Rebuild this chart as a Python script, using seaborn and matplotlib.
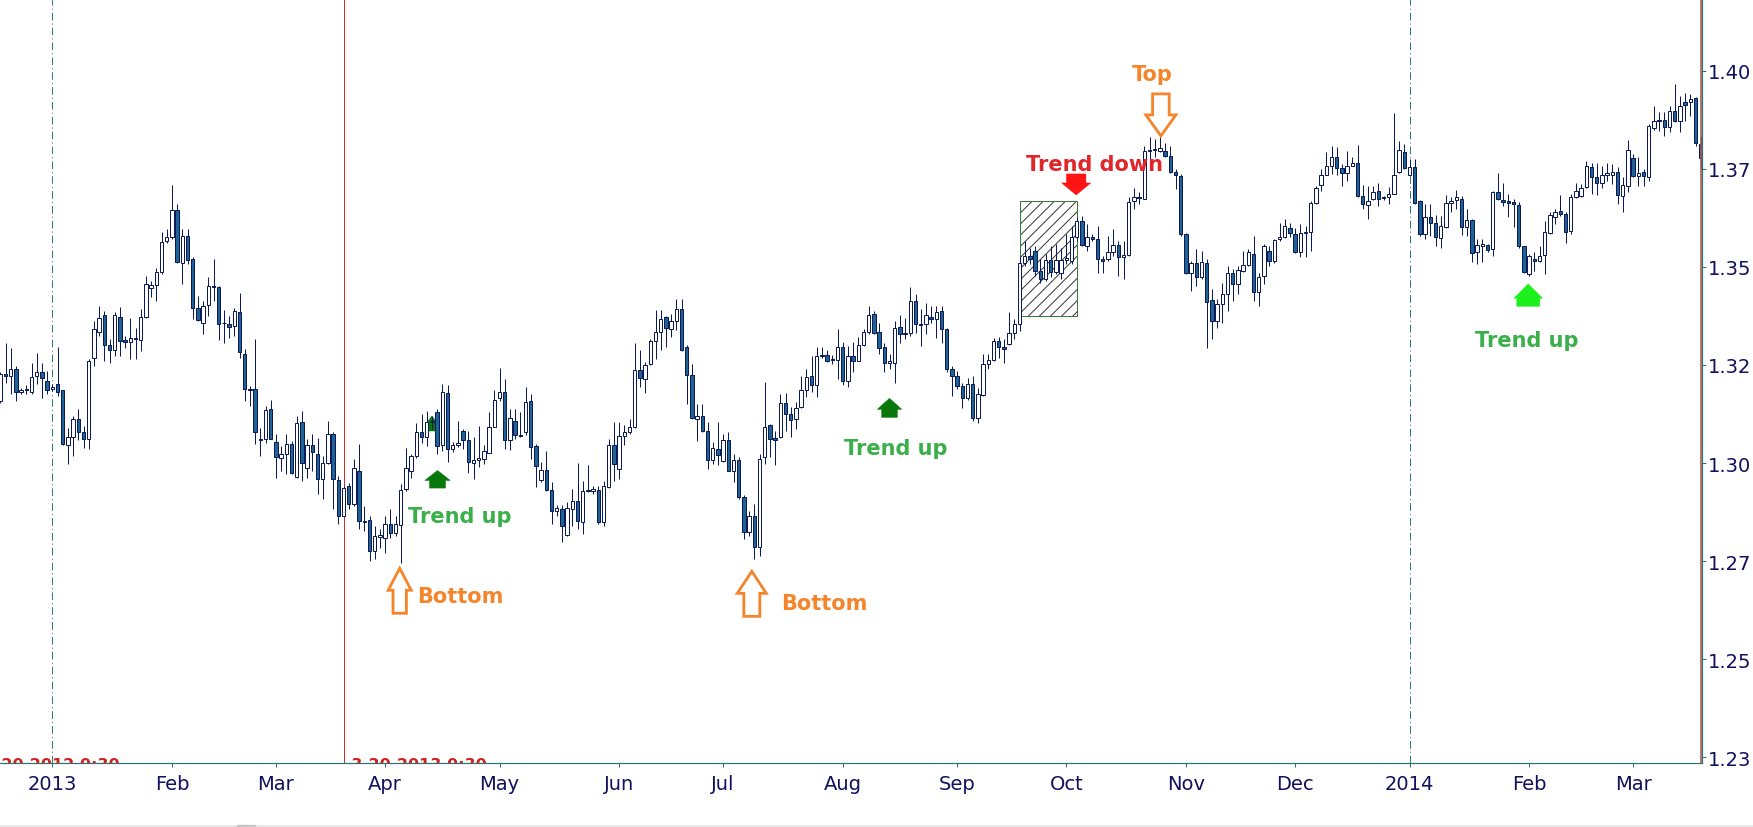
import numpy as np
import pandas as pd
import matplotlib
matplotlib.use("Agg")
import matplotlib.pyplot as plt
import matplotlib.transforms as mtransforms
from matplotlib.patches import Polygon, Rectangle
from matplotlib.lines import Line2D
import seaborn as sns

# ---------------- data (EUR/USD daily candles) ----------------
start_date = "2012-12-18"

open_ = [
    1.3158, 1.3226, 1.3222, 1.3241, 1.3180, 1.3185, 1.3180, 1.3222, 1.3233, 1.3209,
    1.3190, 1.3202, 1.3185, 1.3046, 1.3067, 1.3113, 1.3078, 1.3062, 1.3269, 1.3335,
    1.3378, 1.3301, 1.3287, 1.3373, 1.3314, 1.3309, 1.3319, 1.3314, 1.3373, 1.3447,
    1.3453, 1.3488, 1.3566, 1.3575, 1.3644, 1.3511, 1.3579, 1.3520, 1.3394, 1.3356,
    1.3404, 1.3452, 1.3450, 1.3356, 1.3355, 1.3349, 1.3386, 1.3279, 1.3190, 1.3188,
    1.3059, 1.3061, 1.3137, 1.3055, 1.3014, 1.3022, 1.3048, 1.2965, 1.3105, 1.2988,
    1.3045, 1.3022, 1.2959, 1.3001, 1.3075, 1.2958, 1.2865, 1.2942, 1.2895, 1.2980,
    1.2852, 1.2856, 1.2776, 1.2812, 1.2810, 1.2844, 1.2821, 1.2841, 1.2933, 1.2980,
    1.3018, 1.3078, 1.3067, 1.3105, 1.3129, 1.3045, 1.3178, 1.3036, 1.3047, 1.3081,
    1.3060, 1.2999, 1.3009, 1.3010, 1.3026, 1.3093, 1.3166, 1.3182, 1.3060, 1.3108,
    1.3072, 1.3078, 1.3159, 1.3043, 1.2957, 1.2982, 1.2932, 1.2879, 1.2883, 1.2817,
    1.2882, 1.2904, 1.2851, 1.2930, 1.2930, 1.2932, 1.2851, 1.2938, 1.3046, 1.2985,
    1.3070, 1.3078, 1.3091, 1.3238, 1.3215, 1.3253, 1.3311, 1.3335, 1.3372, 1.3342,
    1.3363, 1.3393, 1.3295, 1.3225, 1.3113, 1.3121, 1.3081, 1.3008, 1.3036, 1.3005,
    1.3060, 1.2981, 1.3008, 1.2913, 1.2825, 1.2866, 1.2785, 1.3015, 1.3096, 1.3064,
    1.3066, 1.3152, 1.3124, 1.3113, 1.3142, 1.3185, 1.3221, 1.3199, 1.3272, 1.3276,
    1.3264, 1.3263, 1.3295, 1.3210, 1.3274, 1.3261, 1.3301, 1.3333, 1.3379, 1.3335,
    1.3297, 1.3256, 1.3256, 1.3347, 1.3328, 1.3332, 1.3413, 1.3354, 1.3354, 1.3373,
    1.3368, 1.3388, 1.3341, 1.3239, 1.3222, 1.3197, 1.3167, 1.3201, 1.3116, 1.3173,
    1.3252, 1.3263, 1.3310, 1.3297, 1.3303, 1.3331, 1.3354, 1.3509, 1.3528, 1.3541,
    1.3490, 1.3469, 1.3518, 1.3486, 1.3484, 1.3518, 1.3515, 1.3577, 1.3617, 1.3553,
    1.3575, 1.3570, 1.3521, 1.3520, 1.3538, 1.3556, 1.3525, 1.3530, 1.3668, 1.3677,
    1.3674, 1.3795, 1.3797, 1.3796, 1.3796, 1.3783, 1.3742, 1.3732, 1.3583, 1.3484,
    1.3509, 1.3473, 1.3511, 1.3415, 1.3362, 1.3405, 1.3432, 1.3484, 1.3456, 1.3490,
    1.3504, 1.3534, 1.3435, 1.3477, 1.3541, 1.3515, 1.3570, 1.3575, 1.3600, 1.3583,
    1.3538, 1.3586, 1.3589, 1.3664, 1.3709, 1.3735, 1.3758, 1.3781, 1.3751, 1.3739,
    1.3758, 1.3764, 1.3681, 1.3658, 1.3673, 1.3694, 1.3677, 1.3677, 1.3687, 1.3741,
    1.3794, 1.3735, 1.3755, 1.3668, 1.3585, 1.3626, 1.3611, 1.3573, 1.3601, 1.3662,
    1.3670, 1.3674, 1.3602, 1.3619, 1.3539, 1.3554, 1.3556, 1.3545, 1.3692, 1.3670,
    1.3668, 1.3666, 1.3657, 1.3552, 1.3482, 1.3521, 1.3514, 1.3531, 1.3586, 1.3626,
    1.3643, 1.3634, 1.3592, 1.3677, 1.3681, 1.3703, 1.3754, 1.3730, 1.3715, 1.3734,
    1.3734, 1.3741, 1.3681, 1.3705, 1.3777, 1.3731, 1.3741, 1.3730, 1.3854, 1.3871,
    1.3875, 1.3856, 1.3898, 1.3873, 1.3919, 1.3919, 1.3930, 1.3813,
]

high = [
    1.3231, 1.3307, 1.3294, 1.3248, 1.3192, 1.3200, 1.3256, 1.3281, 1.3256, 1.3235,
    1.3201, 1.3297, 1.3187, 1.3090, 1.3120, 1.3139, 1.3095, 1.3265, 1.3362, 1.3401,
    1.3388, 1.3316, 1.3385, 1.3399, 1.3324, 1.3371, 1.3345, 1.3392, 1.3477, 1.3464,
    1.3498, 1.3588, 1.3596, 1.3708, 1.3660, 1.3596, 1.3596, 1.3524, 1.3426, 1.3413,
    1.3473, 1.3520, 1.3452, 1.3390, 1.3375, 1.3396, 1.3433, 1.3290, 1.3197, 1.3317,
    1.3090, 1.3146, 1.3162, 1.3073, 1.3044, 1.3073, 1.3056, 1.3120, 1.3133, 1.3061,
    1.3073, 1.3065, 1.3018, 1.3106, 1.3078, 1.2967, 1.2942, 1.2950, 1.3010, 1.3048,
    1.2890, 1.2865, 1.2840, 1.2831, 1.2865, 1.2882, 1.2865, 1.2946, 1.3039, 1.3022,
    1.3103, 1.3124, 1.3133, 1.3120, 1.3137, 1.3202, 1.3199, 1.3055, 1.3108, 1.3087,
    1.3083, 1.3066, 1.3094, 1.3045, 1.3130, 1.3185, 1.3243, 1.3215, 1.3138, 1.3138,
    1.3130, 1.3193, 1.3176, 1.3049, 1.3002, 1.3032, 1.2951, 1.2892, 1.2892, 1.2900,
    1.2934, 1.3000, 1.2955, 1.2995, 1.2942, 1.2942, 1.2955, 1.3061, 1.3104, 1.3104,
    1.3096, 1.3113, 1.3305, 1.3287, 1.3257, 1.3316, 1.3389, 1.3390, 1.3374, 1.3380,
    1.3417, 1.3417, 1.3300, 1.3253, 1.3151, 1.3151, 1.3104, 1.3053, 1.3104, 1.3074,
    1.3080, 1.3023, 1.3015, 1.2919, 1.2879, 1.2896, 1.3023, 1.3206, 1.3100, 1.3083,
    1.3175, 1.3178, 1.3142, 1.3155, 1.3223, 1.3240, 1.3274, 1.3295, 1.3297, 1.3287,
    1.3276, 1.3342, 1.3308, 1.3299, 1.3308, 1.3321, 1.3342, 1.3401, 1.3388, 1.3358,
    1.3307, 1.3277, 1.3362, 1.3377, 1.3371, 1.3449, 1.3430, 1.3392, 1.3409, 1.3400,
    1.3400, 1.3400, 1.3345, 1.3247, 1.3235, 1.3205, 1.3218, 1.3222, 1.3192, 1.3277,
    1.3277, 1.3320, 1.3321, 1.3316, 1.3384, 1.3367, 1.3528, 1.3566, 1.3549, 1.3553,
    1.3520, 1.3532, 1.3553, 1.3558, 1.3549, 1.3583, 1.3603, 1.3626, 1.3630, 1.3609,
    1.3583, 1.3605, 1.3528, 1.3579, 1.3596, 1.3566, 1.3566, 1.3677, 1.3702, 1.3690,
    1.3809, 1.3830, 1.3826, 1.3830, 1.3817, 1.3809, 1.3749, 1.3736, 1.3587, 1.3515,
    1.3545, 1.3541, 1.3520, 1.3443, 1.3417, 1.3460, 1.3502, 1.3494, 1.3502, 1.3541,
    1.3545, 1.3579, 1.3485, 1.3558, 1.3553, 1.3571, 1.3613, 1.3622, 1.3613, 1.3600,
    1.3609, 1.3605, 1.3668, 1.3707, 1.3749, 1.3792, 1.3809, 1.3805, 1.3762, 1.3796,
    1.3779, 1.3810, 1.3709, 1.3707, 1.3707, 1.3715, 1.3681, 1.3703, 1.3892, 1.3822,
    1.3813, 1.3775, 1.3775, 1.3670, 1.3660, 1.3660, 1.3633, 1.3630, 1.3683, 1.3677,
    1.3697, 1.3680, 1.3647, 1.3622, 1.3571, 1.3571, 1.3558, 1.3694, 1.3739, 1.3715,
    1.3685, 1.3672, 1.3665, 1.3554, 1.3532, 1.3537, 1.3554, 1.3617, 1.3640, 1.3647,
    1.3683, 1.3640, 1.3685, 1.3715, 1.3711, 1.3771, 1.3766, 1.3766, 1.3758, 1.3766,
    1.3762, 1.3754, 1.3728, 1.3823, 1.3788, 1.3779, 1.3749, 1.3864, 1.3911, 1.3895,
    1.3894, 1.3911, 1.3966, 1.3936, 1.3943, 1.3941, 1.3932, 1.3834,
]

low = [
    1.3154, 1.3205, 1.3175, 1.3157, 1.3175, 1.3175, 1.3175, 1.3201, 1.3167, 1.3175,
    1.3184, 1.3171, 1.3046, 1.2997, 1.3018, 1.3060, 1.3039, 1.3035, 1.3248, 1.3324,
    1.3260, 1.3256, 1.3273, 1.3273, 1.3294, 1.3265, 1.3265, 1.3286, 1.3371, 1.3422,
    1.3413, 1.3481, 1.3562, 1.3570, 1.3511, 1.3456, 1.3507, 1.3367, 1.3362, 1.3328,
    1.3375, 1.3413, 1.3314, 1.3305, 1.3320, 1.3324, 1.3269, 1.3158, 1.3146, 1.3048,
    1.3018, 1.3052, 1.3061, 1.2963, 1.2980, 1.2971, 1.2971, 1.2963, 1.2954, 1.2963,
    1.2980, 1.2920, 1.2908, 1.2997, 1.2882, 1.2844, 1.2865, 1.2882, 1.2890, 1.2831,
    1.2827, 1.2750, 1.2755, 1.2784, 1.2772, 1.2810, 1.2814, 1.2746, 1.2929, 1.2963,
    1.3014, 1.3052, 1.3044, 1.3086, 1.3022, 1.3032, 1.3002, 1.3027, 1.3040, 1.3036,
    1.2976, 1.2960, 1.2989, 1.2998, 1.3026, 1.3091, 1.3159, 1.3036, 1.3033, 1.3062,
    1.3067, 1.3072, 1.3010, 1.2938, 1.2951, 1.2930, 1.2845, 1.2866, 1.2798, 1.2815,
    1.2840, 1.2832, 1.2819, 1.2926, 1.2921, 1.2845, 1.2839, 1.2936, 1.2955, 1.2960,
    1.3045, 1.3074, 1.3089, 1.3193, 1.3178, 1.3250, 1.3265, 1.3287, 1.3295, 1.3321,
    1.3338, 1.3286, 1.3151, 1.3112, 1.3057, 1.3079, 1.2985, 1.2998, 1.2994, 1.3003,
    1.2979, 1.2951, 1.2908, 1.2806, 1.2815, 1.2756, 1.2764, 1.2998, 1.3015, 1.2994,
    1.3064, 1.3083, 1.3066, 1.3087, 1.3140, 1.3168, 1.3181, 1.3168, 1.3269, 1.3258,
    1.3253, 1.3215, 1.3198, 1.3193, 1.3231, 1.3259, 1.3299, 1.3329, 1.3330, 1.3277,
    1.3231, 1.3239, 1.3205, 1.3307, 1.3316, 1.3324, 1.3332, 1.3299, 1.3328, 1.3358,
    1.3320, 1.3307, 1.3231, 1.3171, 1.3188, 1.3141, 1.3162, 1.3107, 1.3103, 1.3171,
    1.3239, 1.3261, 1.3269, 1.3256, 1.3301, 1.3316, 1.3337, 1.3502, 1.3507, 1.3477,
    1.3460, 1.3464, 1.3473, 1.3481, 1.3469, 1.3507, 1.3507, 1.3566, 1.3553, 1.3541,
    1.3566, 1.3484, 1.3484, 1.3515, 1.3528, 1.3477, 1.3470, 1.3528, 1.3647, 1.3660,
    1.3672, 1.3775, 1.3779, 1.3792, 1.3781, 1.3740, 1.3698, 1.3579, 1.3481, 1.3439,
    1.3452, 1.3470, 1.3294, 1.3317, 1.3345, 1.3358, 1.3388, 1.3413, 1.3430, 1.3488,
    1.3502, 1.3413, 1.3400, 1.3456, 1.3502, 1.3511, 1.3566, 1.3573, 1.3575, 1.3536,
    1.3524, 1.3524, 1.3541, 1.3660, 1.3694, 1.3733, 1.3737, 1.3734, 1.3707, 1.3719,
    1.3756, 1.3677, 1.3647, 1.3623, 1.3671, 1.3656, 1.3670, 1.3660, 1.3685, 1.3739,
    1.3749, 1.3732, 1.3660, 1.3579, 1.3571, 1.3579, 1.3554, 1.3548, 1.3599, 1.3639,
    1.3647, 1.3581, 1.3579, 1.3513, 1.3507, 1.3513, 1.3539, 1.3528, 1.3670, 1.3656,
    1.3626, 1.3601, 1.3549, 1.3484, 1.3477, 1.3490, 1.3512, 1.3481, 1.3584, 1.3609,
    1.3630, 1.3560, 1.3583, 1.3675, 1.3677, 1.3700, 1.3685, 1.3683, 1.3702, 1.3719,
    1.3711, 1.3660, 1.3640, 1.3691, 1.3729, 1.3707, 1.3707, 1.3720, 1.3850, 1.3847,
    1.3834, 1.3843, 1.3868, 1.3843, 1.3873, 1.3885, 1.3809, 1.3749,
]

close = [
    1.3226, 1.3222, 1.3241, 1.3180, 1.3185, 1.3190, 1.3220, 1.3233, 1.3218, 1.3186,
    1.3194, 1.3182, 1.3049, 1.3067, 1.3113, 1.3079, 1.3062, 1.3260, 1.3341, 1.3371,
    1.3301, 1.3287, 1.3377, 1.3311, 1.3309, 1.3319, 1.3316, 1.3373, 1.3456, 1.3453,
    1.3488, 1.3564, 1.3575, 1.3644, 1.3513, 1.3579, 1.3517, 1.3394, 1.3364, 1.3400,
    1.3452, 1.3448, 1.3355, 1.3358, 1.3348, 1.3388, 1.3282, 1.3188, 1.3186, 1.3079,
    1.3061, 1.3135, 1.3062, 1.3016, 1.3024, 1.3048, 1.2976, 1.3103, 1.2999, 1.3046,
    1.3027, 1.2959, 1.3001, 1.3075, 1.2960, 1.2865, 1.2937, 1.2895, 1.2988, 1.2852,
    1.2850, 1.2776, 1.2814, 1.2818, 1.2844, 1.2823, 1.2844, 1.2931, 1.2988, 1.3018,
    1.3079, 1.3067, 1.3105, 1.3107, 1.3044, 1.3181, 1.3036, 1.3047, 1.3052, 1.3060,
    1.3002, 1.3009, 1.3012, 1.3030, 1.3093, 1.3162, 1.3182, 1.3060, 1.3114, 1.3072,
    1.3070, 1.3155, 1.3040, 1.2992, 1.2982, 1.2932, 1.2877, 1.2885, 1.2839, 1.2886,
    1.2904, 1.2853, 1.2930, 1.2932, 1.2935, 1.2849, 1.2942, 1.3047, 1.2998, 1.3070,
    1.3080, 1.3093, 1.3238, 1.3216, 1.3251, 1.3311, 1.3335, 1.3368, 1.3344, 1.3361,
    1.3393, 1.3288, 1.3225, 1.3114, 1.3121, 1.3081, 1.3008, 1.3038, 1.3021, 1.3060,
    1.2981, 1.3008, 1.2913, 1.2825, 1.2866, 1.2785, 1.3010, 1.3093, 1.3061, 1.3060,
    1.3152, 1.3124, 1.3110, 1.3140, 1.3185, 1.3219, 1.3199, 1.3274, 1.3276, 1.3261,
    1.3263, 1.3295, 1.3210, 1.3274, 1.3259, 1.3301, 1.3333, 1.3378, 1.3332, 1.3294,
    1.3256, 1.3260, 1.3345, 1.3328, 1.3332, 1.3413, 1.3354, 1.3352, 1.3378, 1.3368,
    1.3386, 1.3341, 1.3239, 1.3222, 1.3197, 1.3167, 1.3201, 1.3116, 1.3175, 1.3252,
    1.3263, 1.3310, 1.3297, 1.3290, 1.3331, 1.3354, 1.3509, 1.3528, 1.3520, 1.3490,
    1.3469, 1.3518, 1.3486, 1.3518, 1.3518, 1.3522, 1.3577, 1.3617, 1.3555, 1.3575,
    1.3570, 1.3521, 1.3515, 1.3538, 1.3556, 1.3526, 1.3530, 1.3666, 1.3677, 1.3675,
    1.3796, 1.3797, 1.3800, 1.3802, 1.3783, 1.3742, 1.3734, 1.3583, 1.3484, 1.3509,
    1.3473, 1.3513, 1.3411, 1.3361, 1.3405, 1.3432, 1.3484, 1.3456, 1.3492, 1.3504,
    1.3537, 1.3435, 1.3475, 1.3553, 1.3515, 1.3568, 1.3575, 1.3603, 1.3586, 1.3538,
    1.3586, 1.3590, 1.3664, 1.3701, 1.3735, 1.3758, 1.3781, 1.3751, 1.3739, 1.3758,
    1.3764, 1.3681, 1.3660, 1.3668, 1.3692, 1.3673, 1.3675, 1.3687, 1.3735, 1.3798,
    1.3751, 1.3754, 1.3662, 1.3585, 1.3627, 1.3613, 1.3575, 1.3605, 1.3664, 1.3667,
    1.3678, 1.3602, 1.3619, 1.3535, 1.3556, 1.3558, 1.3543, 1.3692, 1.3674, 1.3666,
    1.3664, 1.3660, 1.3552, 1.3486, 1.3528, 1.3514, 1.3528, 1.3590, 1.3633, 1.3641,
    1.3636, 1.3590, 1.3679, 1.3694, 1.3700, 1.3756, 1.3728, 1.3713, 1.3734, 1.3738,
    1.3741, 1.3684, 1.3708, 1.3798, 1.3731, 1.3739, 1.3732, 1.3858, 1.3871, 1.3875,
    1.3856, 1.3898, 1.3873, 1.3911, 1.3913, 1.3928, 1.3817, 1.3777,
]

ytick_values = [1.400, 1.375, 1.350, 1.325, 1.300, 1.275, 1.250, 1.225]
ytick_labels = ["1.40", "1.37", "1.35", "1.32", "1.30", "1.27", "1.25", "1.23"]
marker_date = "2013-03-20"
marker_label = "3.20.2013 0:30"
left_marker_label = "12.20.2012 0:30"

# ---------------- frame ----------------
dates = pd.bdate_range(start_date, periods=len(close))
df = pd.DataFrame({"date": dates, "open": open_, "high": high, "low": low, "close": close})
df["idx"] = np.arange(len(df))

sns.set_theme(style="white")
plt.rcParams["font.family"] = ["DejaVu Sans"]
plt.rcParams["lines.scale_dashes"] = False
plt.rcParams["hatch.linewidth"] = 0.7

NAVY = "#10105e"
EDGE = "#0c1a5a"
BEAR = "#1f6392"
TEAL = "#2c7272"
ORANGE = "#f5852b"
GREEN_TXT = "#3bb04a"
DARK_GREEN = "#08780a"
BRIGHT_GREEN = "#1ef01e"
RED_TXT = "#e1262b"
PX = 0.72  # one pixel in points at dpi 100

W, H = 1753, 828
fig = plt.figure(figsize=(W / 100, H / 100), dpi=100)
fig.patch.set_facecolor("white")
ax = fig.add_axes([0, 64 / H, 1702 / W, 764 / H])
ax.set_facecolor("white")

ax.set_xlim(-0.06, 327.25)
ax.set_ylim(1.22357, 1.41827)

# ---------------- vertical markers ----------------
year_starts = df.index[(df.date.dt.month == 1) & (df.date.dt.month != df.date.dt.month.shift())]
for i in year_starts:
    ax.axvline(i, color="#2f7d7b", lw=PX, linestyle=(0, (5.5, 2.2, 0.8, 2.2)), zorder=1)
mk = int(df.index[df.date == pd.Timestamp(marker_date)][0])
ax.axvline(mk, color="#c3322a", lw=PX, zorder=1)
ax.axvline(df.idx.iloc[-1], color="#a4584e", lw=1.6 * PX, zorder=6)

# ---------------- hatched box ----------------
box_x0, box_x1 = 196, 207
box_y0, box_y1 = 1.3374, 1.3667
ax.add_patch(Rectangle((box_x0, box_y0), box_x1 - box_x0, box_y1 - box_y0,
                       facecolor="none", edgecolor="#333333", hatch="///", lw=0, zorder=2))
ax.add_patch(Rectangle((box_x0, box_y0), box_x1 - box_x0, box_y1 - box_y0,
                       facecolor="none", edgecolor="#3b7a3b", lw=1.0 * PX, zorder=2.1))

# ---------------- candles ----------------
up = df.close >= df.open
body_lo = np.minimum(df.open, df.close)
body_h = (df.close - df.open).abs()
ax.vlines(df.idx, df.low, df.high, color=EDGE, lw=1.0 * PX, zorder=3)
ax.bar(df.idx[up], body_h[up], bottom=body_lo[up], width=0.68, color="white",
       edgecolor=EDGE, linewidth=1.0 * PX, zorder=4)
ax.bar(df.idx[~up], body_h[~up], bottom=body_lo[~up], width=0.68, color=BEAR,
       edgecolor=EDGE, linewidth=1.0 * PX, zorder=4)

# ---------------- axes styling ----------------
sns.despine(ax=ax, left=True, top=True, right=False, bottom=False)
for s in ("right", "bottom"):
    ax.spines[s].set_color(TEAL)
    ax.spines[s].set_linewidth(1.2 * PX)

first_of_month = df.index[(df.date.dt.month != df.date.dt.month.shift()) & (df.index > 0)]
xt_labels = [str(d.year) if d.month == 1 else d.strftime("%b") for d in df.date[first_of_month]]
ax.set_xticks(first_of_month)
ax.set_xticklabels(xt_labels)
ax.set_yticks(ytick_values)
ax.set_yticklabels(ytick_labels)
ax.yaxis.tick_right()
ax.tick_params(axis="x", bottom=True, direction="out", length=3, width=PX, color=TEAL,
               labelcolor=NAVY, labelsize=14, pad=5.0)
ax.tick_params(axis="y", left=False, right=True, labelleft=False, labelright=True,
               direction="out", length=3, width=PX, color=TEAL,
               labelcolor=NAVY, labelsize=14, pad=1.2)
ax.grid(False)

# ---------------- annotation helpers (pixel-sized shapes anchored to data) ----------------
def px_transform(xd, yd):
    return (mtransforms.Affine2D().scale(1 / fig.dpi) + fig.dpi_scale_trans
            + mtransforms.ScaledTranslation(xd, yd, ax.transData))

def arrow(xd, yd, dx, dy, hw, hh, sw, total, direction, face, edge, lw, z=7):
    s = 1 if direction == "up" else -1
    verts = [(0, 0), (hw, -s * hh), (sw, -s * hh), (sw, -s * total),
             (-sw, -s * total), (-sw, -s * hh), (-hw, -s * hh)]
    verts = [(vx + dx, vy + dy) for vx, vy in verts]
    ax.add_patch(Polygon(verts, closed=True, transform=px_transform(xd, yd),
                         facecolor=face, edgecolor=edge, lw=lw, joinstyle="miter",
                         zorder=z, clip_on=False))

def label(txt, xd, yd, dx, dy, color):
    ax.annotate(txt, xy=(xd, yd), xytext=(dx, dy), textcoords="offset pixels",
                ha="center", va="baseline", color=color, fontsize=15,
                fontweight="bold", family=["DejaVu Sans"], zorder=8,
                annotation_clip=False)

# Bottom 1 (Apr 4 2013 low)
i = 77
arrow(i, df.low[i], -1, -5.5, 11.5, 22, 6.7, 45, "up", "white", ORANGE, 2.8 * PX)
label("Bottom", i, df.low[i], 60, -39.5, ORANGE)
# Bottom 2 (Jul 9 2013 low)
i = 145
arrow(i, df.low[i], -2.5, -12.5, 14.5, 22, 8, 45, "up", "white", ORANGE, 2.8 * PX)
label("Bottom", i, df.low[i], 70, -50, ORANGE)
# Top (Oct 25 2013 high)
i = 223
arrow(i, df.high[i], 1, 1.5, 15, 21, 8.3, 42, "down", "white", ORANGE, 2.8 * PX)
label("Top", i, df.high[i], -7.5, 57.5, ORANGE)
# Trend down (Oct 3 2013)
i = 207
arrow(i, df.high[i], -0.5, 22.5, 14.5, 12, 9.7, 21, "down", "#ff1414", "#ff1414", 0.5 * PX)
label("Trend down", i, df.high[i], 18, 47.5, RED_TXT)
# Trend up 1 (Apr 15 2013)
i = 84
arrow(i, df.low[i], 0.4, -16, 12.7, 10, 8, 17.6, "up", DARK_GREEN, DARK_GREEN, 0.5 * PX)
label("Trend up", i, df.low[i], 22.5, -67.5, GREEN_TXT)
# small marker partly hidden behind candles
i = 83
arrow(i, df.high[i], 0, 0, 6, 8, 4, 15, "up", DARK_GREEN, DARK_GREEN, 0.5 * PX, z=2.5)
# Trend up 2 (Aug 14 2013)
i = 171
arrow(i, df.low[i], 0, -29, 12.2, 11, 7.8, 19, "up", DARK_GREEN, DARK_GREEN, 0.5 * PX)
label("Trend up", i, df.low[i], 6.5, -85, GREEN_TXT)
# Trend up 3 (Feb 3 2014)
i = 294
arrow(i, df.low[i], -0.8, -8, 14.3, 14.3, 11.5, 22.3, "up", BRIGHT_GREEN, BRIGHT_GREEN, 0.5 * PX)
label("Trend up", i, df.low[i], -2.6, -70, GREEN_TXT)

# ---------------- red time stamps at the bottom (clipped by the axis, as in the source) ----------------
btrans = mtransforms.blended_transform_factory(ax.transData, ax.transAxes) + \
    mtransforms.ScaledTranslation(0, 5.5 / 100, fig.dpi_scale_trans)
ax.text(mk, 0, "  " + marker_label,
        transform=btrans + mtransforms.ScaledTranslation(-4 / 100, 0, fig.dpi_scale_trans),
        ha="left", va="top", color="#d42020", fontsize=11.5, fontweight="bold", clip_on=True)
ax.text(23, 0, left_marker_label, transform=btrans, ha="right", va="top",
        color="#d42020", fontsize=11.5, fontweight="bold", clip_on=True)

# bottom frame line of the window
fig.add_artist(Line2D([0, 1], [0.8 / H, 0.8 / H], color="#e2e2e2", lw=1.6 * PX))
fig.add_artist(Line2D([238 / W, 255 / W], [0.8 / H, 0.8 / H], color="#c6c6c6", lw=2.4 * PX))

fig.savefig("out.png", dpi=100, facecolor="white")
